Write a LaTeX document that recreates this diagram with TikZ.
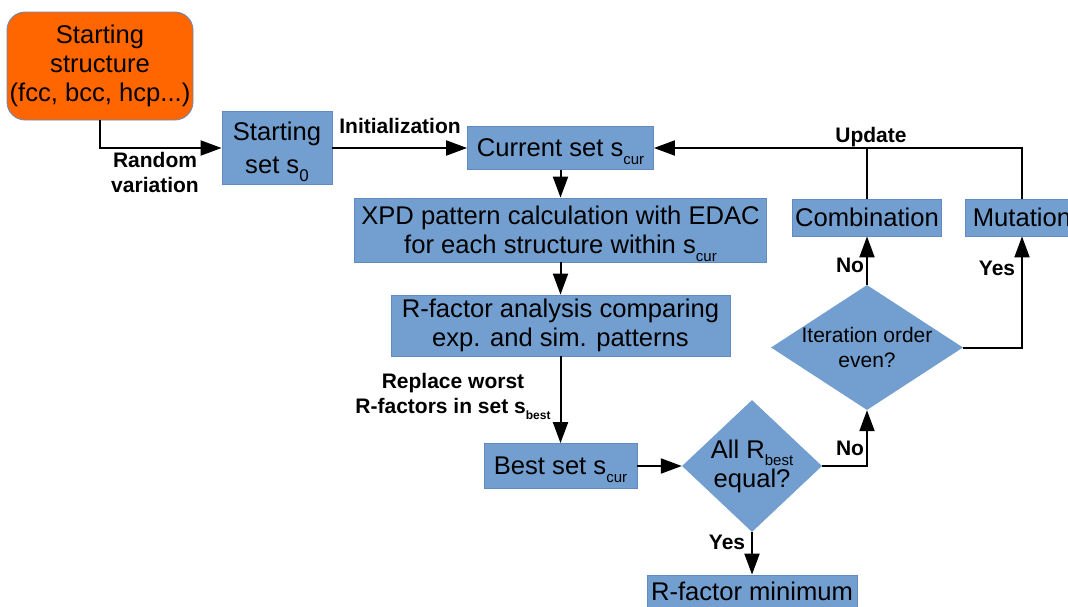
\documentclass[tikz,border=0pt]{standalone}
\usepackage{fontspec}
\setmainfont{Liberation Sans}
\usetikzlibrary{shapes.geometric,arrows.meta}
\definecolor{boxblue}{RGB}{114,159,207}
\definecolor{boxedge}{RGB}{96,138,192}
\definecolor{orangefill}{RGB}{255,102,0}
\newcommand{\subs}[2][15]{\raisebox{-0.3em}[0pt][0pt]{\fontsize{#1}{#1}\selectfont #2}}
\begin{document}
\begin{tikzpicture}[x=1pt,y=-1pt,
  box/.style={rectangle, fill=boxblue, draw=boxedge, line width=0.8pt,
    font=\fontsize{25.6}{29}\selectfont, align=center, inner sep=0pt},
  startbox/.style={box, fill=orangefill, rounded corners=18pt},
  decision/.style={diamond, fill=boxblue, draw=none, inner sep=0pt},
  dtext/.style={font=\fontsize{21}{25}\selectfont, align=center, inner sep=0pt},
  lab/.style={font=\fontsize{21}{25}\selectfont\bfseries, align=center, inner sep=0pt},
  arr/.style={line width=2pt, -{Triangle[length=21pt,width=15pt]}},
  plain/.style={line width=2pt}]
\useasboundingbox (0,0) rectangle (1068,606);

\node[startbox, minimum width=186pt, minimum height=108pt] (start) at (100,66)
  {Starting\\structure\\(fcc, bcc, hcp...)};
\node[box, minimum width=110pt, minimum height=73pt, font=\fontsize{25.6}{33}\selectfont] (set0) at (277,148)
  {Starting\\set s\subs[17]{0}};
\node[box, minimum width=186pt, minimum height=43pt] (cur) at (560.5,148)
  {Current set s\subs{cur}};
\node[box, minimum width=412pt, minimum height=64pt] (xpd) at (560.5,230)
  {XPD pattern calculation with EDAC\\for each structure within s\subs{cur}};
\node[box, minimum width=339pt, minimum height=61pt] (rf) at (560.5,325.5)
  {R-factor analysis comparing\\exp. and sim. patterns};
\node[box, minimum width=153pt, minimum height=45pt] (best) at (560.5,466)
  {Best set s\subs{cur}};
\node[box, minimum width=210pt, minimum height=40pt, text height=18pt, text depth=8pt] (rmin) at (752,595)
  {R-factor minimum};
\node[box, minimum width=149pt, minimum height=37pt] (comb) at (867,217.5)
  {Combination};
\node[box, minimum width=114pt, minimum height=37pt] (mut) at (1022,217.5)
  {Mutation};

\node[decision, minimum width=140pt, minimum height=132pt,
  label={[dtext, font=\fontsize{25.6}{29}\selectfont]center:All R\subs{best}\\equal?}] (d1) at (752,466) {};
\node[decision, minimum width=192pt, minimum height=125pt,
  label={[dtext]center:Iteration order\\even?}] (d2) at (867,347.5) {};

\draw[arr] (start.south) |- (set0.west);
\draw[arr] (set0.east) -- (cur.west);
\draw[arr] (cur.south) -- (xpd.north);
\draw[arr] (xpd.south) -- (rf.north);
\draw[arr] (rf.south) -- (best.north);
\draw[arr] (best.east) -- (d1.west);
\draw[arr] (d1.south) -- (rmin.north);
\draw[arr] (d1.east) -| (d2.south);
\draw[arr] (d2.north) -- (comb.south);
\draw[arr] (d2.east) -| (mut.south);
\draw[plain] (comb.north) -- (comb.north |- cur.east);
\draw[arr] (mut.north) |- (cur.east);

\node[lab] (lrand) at (155,172.5) {Random\\variation};
\node[lab] (linit) at (400,126) {Initialization};
\node[lab] (lrepl) at (453,393) {Replace worst\\R-factors in set s\subs[12]{best}};
\node[lab] (lyes1) at (727,542) {Yes};
\node[lab] (lno1) at (850,448) {No};
\node[lab] (lno2) at (850,265) {No};
\node[lab] (lyes2) at (997,268) {Yes};
\node[lab] (lupd) at (871,137) {Update};
\end{tikzpicture}
\end{document}
